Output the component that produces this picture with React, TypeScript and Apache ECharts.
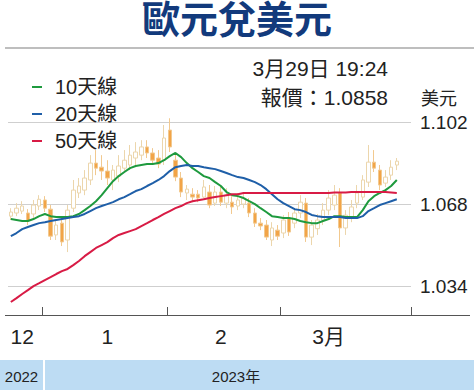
import React, { useEffect, useRef } from "react";
import * as echarts from "echarts";

const categories: string[] = [
  "12/23", "12/26", "12/27", "12/28", "12/29", "12/30",
  "1/2", "1/3", "1/4", "1/5", "1/6", "1/9", "1/10", "1/11", "1/12", "1/13",
  "1/16", "1/17", "1/18", "1/19", "1/20", "1/23", "1/24", "1/25", "1/26", "1/27", "1/30", "1/31",
  "2/1", "2/2", "2/3", "2/6", "2/7", "2/8", "2/9", "2/10", "2/13", "2/14", "2/15", "2/16", "2/17",
  "2/20", "2/21", "2/22", "2/23", "2/24", "2/27", "2/28",
  "3/1", "3/2", "3/3", "3/6", "3/7", "3/8", "3/9", "3/10", "3/13", "3/14", "3/15", "3/16", "3/17",
  "3/20", "3/21", "3/22", "3/23", "3/24", "3/27", "3/28", "3/29", "3/30", "3/31",
];

// [open, close, low, high]
const candles: number[][] = [
  [1.0630, 1.0647, 1.0614, 1.0663],
  [1.0643, 1.0663, 1.0630, 1.0684],
  [1.0651, 1.0672, 1.0639, 1.0692],
  [1.0643, 1.0610, 1.0593, 1.0659],
  [1.0639, 1.0676, 1.0622, 1.0697],
  [1.0672, 1.0700, 1.0655, 1.0717],
  [1.0697, 1.0663, 1.0647, 1.0713],
  [1.0659, 1.0547, 1.0531, 1.0676],
  [1.0552, 1.0593, 1.0531, 1.0614],
  [1.0601, 1.0523, 1.0506, 1.0622],
  [1.0531, 1.0655, 1.0481, 1.0676],
  [1.0663, 1.0738, 1.0647, 1.0780],
  [1.0726, 1.0755, 1.0705, 1.0788],
  [1.0738, 1.0788, 1.0717, 1.0821],
  [1.0780, 1.0850, 1.0759, 1.0883],
  [1.0850, 1.0829, 1.0800, 1.0904],
  [1.0833, 1.0817, 1.0780, 1.0883],
  [1.0817, 1.0788, 1.0759, 1.0862],
  [1.0780, 1.0821, 1.0738, 1.0842],
  [1.0796, 1.0838, 1.0771, 1.0883],
  [1.0829, 1.0862, 1.0813, 1.0904],
  [1.0842, 1.0883, 1.0821, 1.0925],
  [1.0871, 1.0896, 1.0842, 1.0937],
  [1.0883, 1.0917, 1.0862, 1.0945],
  [1.0917, 1.0892, 1.0871, 1.0945],
  [1.0892, 1.0862, 1.0842, 1.0912],
  [1.0871, 1.0846, 1.0829, 1.0904],
  [1.0862, 1.0954, 1.0842, 1.1008],
  [1.0987, 1.0917, 1.0896, 1.1036],
  [1.0862, 1.0792, 1.0775, 1.0892],
  [1.0788, 1.0730, 1.0709, 1.0813],
  [1.0726, 1.0742, 1.0697, 1.0759],
  [1.0721, 1.0709, 1.0688, 1.0746],
  [1.0721, 1.0705, 1.0688, 1.0738],
  [1.0709, 1.0751, 1.0697, 1.0780],
  [1.0730, 1.0676, 1.0663, 1.0759],
  [1.0684, 1.0730, 1.0672, 1.0755],
  [1.0730, 1.0688, 1.0672, 1.0755],
  [1.0684, 1.0717, 1.0663, 1.0746],
  [1.0688, 1.0668, 1.0639, 1.0713],
  [1.0672, 1.0697, 1.0655, 1.0726],
  [1.0680, 1.0705, 1.0663, 1.0726],
  [1.0684, 1.0643, 1.0626, 1.0705],
  [1.0643, 1.0601, 1.0585, 1.0663],
  [1.0601, 1.0589, 1.0572, 1.0622],
  [1.0593, 1.0543, 1.0531, 1.0614],
  [1.0531, 1.0581, 1.0506, 1.0605],
  [1.0572, 1.0547, 1.0531, 1.0593],
  [1.0560, 1.0614, 1.0539, 1.0634],
  [1.0622, 1.0564, 1.0548, 1.0647],
  [1.0601, 1.0643, 1.0580, 1.0663],
  [1.0643, 1.0688, 1.0622, 1.0717],
  [1.0684, 1.0543, 1.0523, 1.0705],
  [1.0543, 1.0593, 1.0510, 1.0614],
  [1.0578, 1.0614, 1.0552, 1.0639],
  [1.0614, 1.0655, 1.0593, 1.0684],
  [1.0655, 1.0705, 1.0634, 1.0738],
  [1.0676, 1.0717, 1.0655, 1.0759],
  [1.0726, 1.0581, 1.0502, 1.0746],
  [1.0581, 1.0634, 1.0552, 1.0655],
  [1.0626, 1.0668, 1.0605, 1.0697],
  [1.0684, 1.0726, 1.0663, 1.0759],
  [1.0709, 1.0780, 1.0697, 1.0800],
  [1.0771, 1.0854, 1.0751, 1.0925],
  [1.0854, 1.0829, 1.0813, 1.0904],
  [1.0821, 1.0759, 1.0738, 1.0842],
  [1.0767, 1.0792, 1.0751, 1.0821],
  [1.0800, 1.0833, 1.0780, 1.0862],
  [1.0842, 1.0858, 1.0821, 1.0871],
];

const ma10: number[] = [
  1.0618, 1.0614, 1.0610, 1.0610, 1.0618, 1.0630, 1.0639, 1.0630, 1.0626, 1.0626,
  1.0626, 1.0630, 1.0639, 1.0655, 1.0672, 1.0692, 1.0717, 1.0746, 1.0775, 1.0796,
  1.0813, 1.0829, 1.0838, 1.0842, 1.0846, 1.0846, 1.0850, 1.0862, 1.0879, 1.0892,
  1.0875, 1.0850, 1.0829, 1.0813, 1.0796, 1.0788, 1.0771, 1.0755, 1.0730, 1.0717,
  1.0713, 1.0705, 1.0692, 1.0680, 1.0663, 1.0647, 1.0630, 1.0626, 1.0622, 1.0622,
  1.0618, 1.0610, 1.0605, 1.0601, 1.0601, 1.0610, 1.0618, 1.0630, 1.0630, 1.0626,
  1.0626, 1.0626, 1.0655, 1.0692, 1.0713, 1.0726, 1.0738, 1.0755, 1.0780,
];

const ma20: number[] = [
  1.0547, 1.0560, 1.0576, 1.0585, 1.0593, 1.0601, 1.0605, 1.0610, 1.0614, 1.0618,
  1.0622, 1.0626, 1.0630, 1.0639, 1.0651, 1.0663, 1.0672, 1.0680, 1.0688, 1.0700,
  1.0709, 1.0721, 1.0734, 1.0742, 1.0755, 1.0767, 1.0780, 1.0796, 1.0817, 1.0833,
  1.0838, 1.0842, 1.0838, 1.0838, 1.0833, 1.0829, 1.0825, 1.0817, 1.0809, 1.0800,
  1.0792, 1.0788, 1.0780, 1.0771, 1.0759, 1.0742, 1.0721, 1.0700, 1.0684, 1.0672,
  1.0659, 1.0655, 1.0647, 1.0635, 1.0630, 1.0626, 1.0626, 1.0626, 1.0626, 1.0622,
  1.0622, 1.0622, 1.0630, 1.0651, 1.0663, 1.0676, 1.0684, 1.0692, 1.0700,
];

const ma50: number[] = [
  1.0274, 1.0290, 1.0307, 1.0323, 1.0340, 1.0352, 1.0365, 1.0377, 1.0390, 1.0402,
  1.0411, 1.0427, 1.0444, 1.0464, 1.0481, 1.0498, 1.0510, 1.0522, 1.0539, 1.0552,
  1.0560, 1.0568, 1.0576, 1.0589, 1.0601, 1.0614, 1.0626, 1.0639, 1.0651, 1.0663,
  1.0672, 1.0684, 1.0692, 1.0696, 1.0700, 1.0705, 1.0709, 1.0713, 1.0717, 1.0721,
  1.0721, 1.0726, 1.0726, 1.0726, 1.0726, 1.0726, 1.0726, 1.0726, 1.0726, 1.0726,
  1.0726, 1.0726, 1.0726, 1.0726, 1.0726, 1.0726, 1.0726, 1.0728, 1.0728, 1.0728,
  1.0730, 1.0730, 1.0730, 1.0730, 1.0730, 1.0730, 1.0730, 1.0728, 1.0726,
];

const yTicks: number[] = [1.034, 1.068, 1.102];
const monthTickIdx: number[] = [6, 28, 48];
const monthLabelIdx: number[] = [2, 17, 37, 56];
const monthLabels: string[] = ["12", "1", "2", "3月"];
const seriesNames: string[] = ["10天線", "20天線", "50天線"];
const lineColors: string[] = ["#1e9a3e", "#1f5fa8", "#d81b45"];

const FONT = "'Liberation Sans', 'Noto Sans CJK TC', sans-serif";

export default function App() {
  const ref = useRef<HTMLDivElement>(null);
  useEffect(() => {
    if (!ref.current) return;
    const chart = echarts.init(ref.current, undefined, { renderer: "svg" });
    const maData = [ma10, ma20, ma50];
    chart.setOption({
      animation: false,
      backgroundColor: "#ffffff",
      title: {
        text: "歐元兌美元",
        left: "center",
        top: -4,
        textStyle: { fontSize: 38, fontWeight: "bold", color: "#123a7c", fontFamily: FONT },
      },
      legend: {
        orient: "vertical",
        left: 27,
        top: 72,
        itemWidth: 10,
        itemHeight: 2,
        itemGap: 7,
        icon: "rect",
        data: seriesNames,
        textStyle: { fontSize: 20, color: "#222", fontFamily: FONT, padding: [0, 0, 0, 8] },
      },
      grid: { left: 8, right: 63, top: 98, bottom: 75 },
      xAxis: {
        type: "category",
        data: categories,
        boundaryGap: true,
        axisLine: { show: false },
        axisTick: {
          show: true,
          inside: true,
          length: 8,
          interval: (i: number) => monthTickIdx.includes(i),
          lineStyle: { color: "#555", width: 1 },
        },
        axisLabel: {
          interval: (i: number) => monthLabelIdx.includes(i),
          formatter: (_v: string, i: number) => {
            const k = monthLabelIdx.indexOf(i);
            return k >= 0 ? monthLabels[k] : "";
          },
          fontSize: 21,
          color: "#222",
          fontFamily: FONT,
          margin: 11,
        },
        splitLine: { show: false },
      },
      yAxis: {
        type: "value",
        position: "right",
        min: 1.022,
        max: 1.112,
        axisLine: { show: false },
        axisTick: { show: false, customValues: yTicks },
        axisLabel: {
          customValues: yTicks,
          formatter: (v: number) => v.toFixed(3),
          fontSize: 19,
          color: "#222",
          fontFamily: FONT,
          margin: 9,
        },
        splitLine: { show: true, lineStyle: { color: "#cfcfcf", width: 1 } },
      },
      series: [
        {
          type: "candlestick",
          data: candles,
          barWidth: 4,
          itemStyle: {
            color: "#ffffff",
            borderColor: "#ecd6ac",
            color0: "#f2a447",
            borderColor0: "#f2c98f",
            borderWidth: 1,
          },
          z: 2,
        },
        ...seriesNames.map((name, k) => ({
          type: "line",
          name,
          data: maData[k],
          symbol: "none",
          smooth: false,
          lineStyle: { color: lineColors[k], width: 2 },
          itemStyle: { color: lineColors[k] },
          z: 3 + k,
        })),
      ],
      graphic: [
        { type: "line", shape: { x1: 5, y1: 48, x2: 474, y2: 48 }, style: { stroke: "#a8a8a8", lineWidth: 1.5 } },
        { type: "text", x: 388, y: 68, style: { text: "3月29日 19:24", fill: "#222", font: `21px ${FONT}`, align: "right", verticalAlign: "middle" } },
        { type: "text", x: 388, y: 97, style: { text: "報價：1.0858", fill: "#222", font: `21px ${FONT}`, align: "right", verticalAlign: "middle" } },
        { type: "text", x: 421, y: 99, style: { text: "美元", fill: "#222", font: `18px ${FONT}`, align: "left", verticalAlign: "middle" } },
        { type: "line", shape: { x1: 5, y1: 315.5, x2: 470, y2: 315.5 }, style: { stroke: "#555", lineWidth: 1 } },
        { type: "rect", shape: { x: 0, y: 360, width: 43, height: 30 }, style: { fill: "#bddcf3" } },
        { type: "rect", shape: { x: 45, y: 360, width: 429, height: 30 }, style: { fill: "#bddcf3" } },
        { type: "text", x: 21.5, y: 376, style: { text: "2022", fill: "#222", font: `15px ${FONT}`, align: "center", verticalAlign: "middle" } },
        { type: "text", x: 236, y: 376, style: { text: "2023年", fill: "#222", font: `15px ${FONT}`, align: "center", verticalAlign: "middle" } },
      ],
    });
    return () => chart.dispose();
  }, []);
  return (
    <div
      ref={ref}
      style={{ position: "fixed", left: 0, top: 0, width: 474, height: 390, background: "#fff" }}
    />
  );
}
